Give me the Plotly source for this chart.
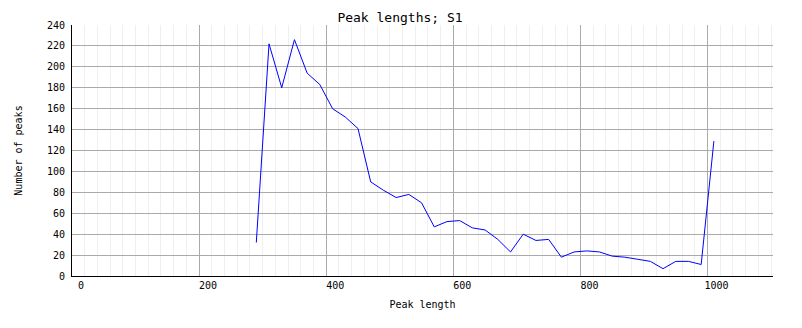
import plotly.graph_objects as go

peak_length = [290, 310, 330, 350, 370, 390, 410, 430, 450, 470, 490, 510, 530,
               550, 570, 590, 610, 630, 650, 670, 690, 710, 730, 750, 770, 790,
               810, 830, 850, 870, 890, 910, 930, 950, 970, 990, 1010]
num_peaks = [32, 222, 180, 226, 194, 183, 160, 152, 141, 90, 82, 75, 78,
             70, 47, 52, 53, 46, 44, 35, 23, 40, 34, 35, 18, 23,
             24, 23, 19, 18, 16, 14, 7, 14, 14, 11, 129]

x_ticks = [0, 200, 400, 600, 800, 1000]
y_ticks = [0, 20, 40, 60, 80, 100, 120, 140, 160, 180, 200, 220, 240]

FONT = "DejaVu Sans Mono"

fig = go.Figure()
fig.add_trace(go.Scatter(x=peak_length, y=num_peaks, mode="lines",
                         line=dict(color="#0000ff", width=1), showlegend=False))

fig.update_layout(
    width=802, height=328,
    margin=dict(l=72, r=29, t=25, b=52),
    paper_bgcolor="white", plot_bgcolor="white",
    font=dict(family=FONT, size=10, color="black"),
    title=dict(text="Peak lengths; S1", font=dict(family=FONT, size=13, color="black"),
               x=400/802, xref="container", xanchor="center",
               y=1 - 17/328, yref="container", yanchor="middle"),
)
fig.update_xaxes(
    range=[0, 1103], tickvals=x_ticks, ticktext=[str(v) for v in x_ticks],
    showgrid=True, gridcolor="#aaaaaa", gridwidth=1,
    minor=dict(dtick=20, tick0=0, showgrid=True, gridcolor="#efefef", gridwidth=1, ticks=""),
    showline=True, linecolor="black", linewidth=1, zeroline=False, ticks="",
    ticklabelshift=9,
    title=dict(text="Peak length", font=dict(family=FONT, size=10), standoff=10),
)
fig.update_yaxes(
    range=[0, 240], tickvals=y_ticks, ticktext=[str(v) for v in y_ticks],
    showgrid=True, gridcolor="#aaaaaa", gridwidth=1,
    showline=True, linecolor="black", linewidth=1, zeroline=False, ticks="",
    ticklabelstandoff=4,
    title=dict(text="Number of peaks", font=dict(family=FONT, size=10), standoff=22),
)

fig.write_html("out.html")
